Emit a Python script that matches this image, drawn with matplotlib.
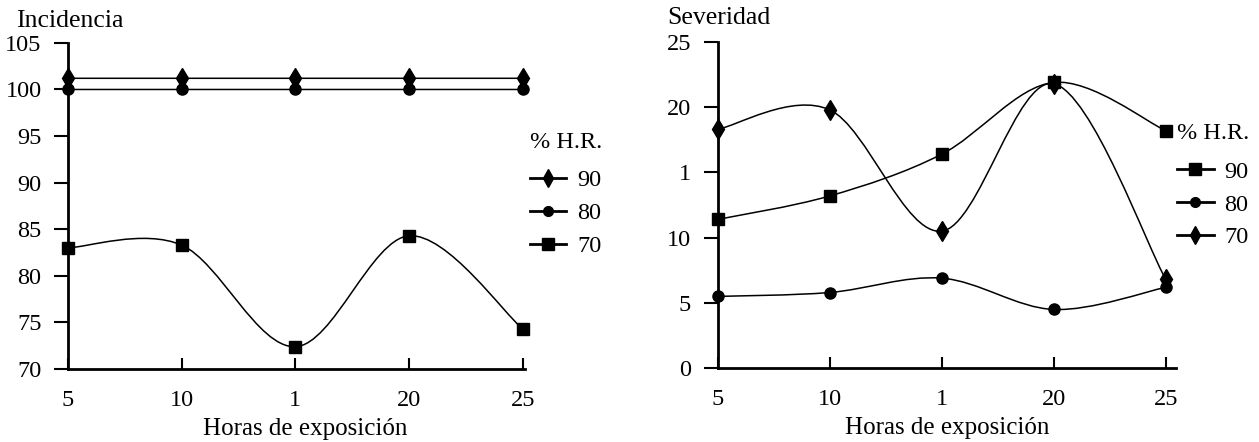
import matplotlib.pyplot as plt
from matplotlib.path import Path
from matplotlib.patches import PathPatch
from matplotlib.lines import Line2D

# x categories (labels as printed in the figure)
horas = ["5", "10", "1", "20", "25"]

# Incidencia (left panel)
inc_90 = [101.2, 101.2, 101.2, 101.2, 101.2]
inc_80 = [100.0, 100.0, 100.0, 100.0, 100.0]
inc_70 = [83.0, 83.3, 72.4, 84.3, 74.3]

# Severidad (right panel)
sev_90 = [11.4, 13.2, 16.4, 21.9, 18.2]
sev_80 = [5.5, 5.8, 6.9, 4.5, 6.2]
sev_70 = [18.3, 19.8, 10.5, 21.8, 6.8]

inc_ticks = [70, 75, 80, 85, 90, 95, 100, 105]
inc_ticklabels = ["70", "75", "80", "85", "90", "95", "100", "105"]
sev_ticks = [0, 5, 10, 15, 20, 25]
sev_ticklabels = ["0", "5", "10", "1", "20", "25"]

plt.rcParams['font.family'] = ['Liberation Serif', 'DejaVu Serif']
FS_TICK = 17.5
FS_LABEL = 18
FS_TITLE = 18.5


# smoothed line through the points (Catmull-Rom style bezier, like a spreadsheet "smoothed line")
def smooth(ax, ys):
    xs = list(range(len(ys)))
    pts = list(zip(xs, ys))
    verts = [pts[0]]
    codes = [Path.MOVETO]
    n = len(pts)
    for i in range(n - 1):
        p0 = pts[max(i - 1, 0)]
        p1 = pts[i]
        p2 = pts[i + 1]
        p3 = pts[min(i + 2, n - 1)]
        c1 = (p1[0] + (p2[0] - p0[0]) / 6, p1[1] + (p2[1] - p0[1]) / 6)
        c2 = (p2[0] - (p3[0] - p1[0]) / 6, p2[1] - (p3[1] - p1[1]) / 6)
        verts += [c1, c2, p2]
        codes += [Path.CURVE4] * 3
    ax.add_patch(PathPatch(Path(verts, codes), fill=False, lw=1.1, color='black', zorder=2))


def series(ax, ys, marker, ms):
    smooth(ax, ys)
    ax.plot(range(len(ys)), ys, ls='none', marker=marker, ms=ms, color='black', zorder=3, clip_on=False)


def style(ax, ymin, ymax, ticks, ticklabels, xmax):
    ax.set_xlim(0, xmax)
    ax.set_ylim(ymin, ymax)
    for s in ['top', 'right']:
        ax.spines[s].set_visible(False)
    for s in ['left', 'bottom']:
        ax.spines[s].set_linewidth(2)
    ax.set_xticks(range(len(horas)))
    ax.set_xticklabels(horas, fontsize=FS_TICK)
    ax.set_yticks(ticks)
    ax.set_yticklabels(ticklabels, fontsize=FS_TICK)
    ax.tick_params(axis='x', direction='in', length=8, width=1.5, pad=15)
    ax.tick_params(axis='y', direction='out', length=10, width=1.5, pad=9)
    ax.set_xlabel("Horas de exposición", fontsize=FS_LABEL, labelpad=5)


def legend(ax, handles, x, y):
    lg = ax.legend(handles=handles, title="% H.R.", loc='upper left',
                   bbox_to_anchor=(x, y), bbox_transform=ax.figure.transFigure,
                   frameon=False, fontsize=FS_TICK, title_fontsize=FS_TICK,
                   handlelength=1.5, handletextpad=0.45, labelspacing=0.45,
                   borderaxespad=0, borderpad=0)
    lg._legend_box.align = 'left'
    lg._legend_box.sep = 12


def handle(marker, ms, label):
    return Line2D([], [], color='black', lw=2, marker=marker, ms=ms, label=label)


fig = plt.figure(figsize=(12.59, 4.42), dpi=100)

# left panel
ax1 = fig.add_axes([0.054, 0.165, 0.363, 0.738])
series(ax1, inc_90, 'd', 10)
series(ax1, inc_80, 'o', 8)
series(ax1, inc_70, 's', 9)
style(ax1, 70, 105, inc_ticks, inc_ticklabels, 4.02)
ax1.xaxis.label.set_x(0.52)
fig.text(0.013, 0.952, "Incidencia", fontsize=FS_TITLE, ha='left', va='center')
legend(ax1, [handle('d', 9, "90"), handle('o', 7, "80"), handle('s', 8, "70")], 0.421, 0.702)

# right panel
ax2 = fig.add_axes([0.570, 0.167, 0.364, 0.738])
series(ax2, sev_90, 's', 9)
series(ax2, sev_80, 'o', 8)
series(ax2, sev_70, 'd', 10)
style(ax2, 0, 25, sev_ticks, sev_ticklabels, 4.09)
fig.text(0.530, 0.960, "Severidad", fontsize=FS_TITLE, ha='left', va='center')
legend(ax2, [handle('s', 8, "90"), handle('o', 7, "80"), handle('d', 9, "70")], 0.935, 0.722)

fig.savefig("out.png", dpi=100)
